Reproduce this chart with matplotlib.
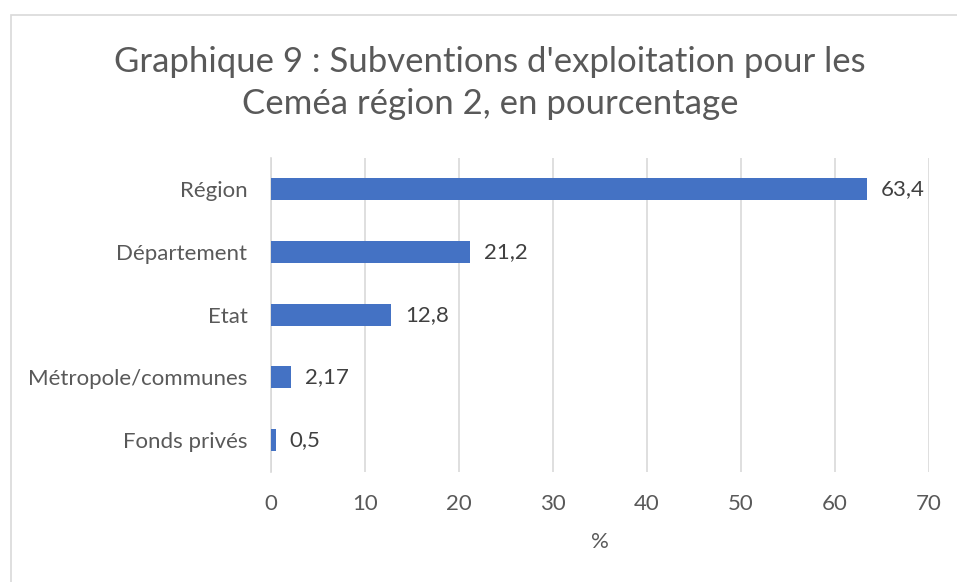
import matplotlib
matplotlib.use("Agg")
import matplotlib.pyplot as plt
from matplotlib.patches import Rectangle

categories = ["Région", "Département", "Etat", "Métropole/communes", "Fonds privés"]
values = [63.4, 21.2, 12.8, 2.17, 0.5]
value_labels = ["63,4", "21,2", "12,8", "2,17", "0,5"]
xticks = [0, 10, 20, 30, 40, 50, 60, 70]
title = "Graphique 9 : Subventions d'exploitation pour les\nCeméa région 2, en pourcentage"
xlabel = "%"

plt.rcParams['font.family'] = ['Lato', 'DejaVu Sans']

W, H = 957, 582
fig = plt.figure(figsize=(W / 100, H / 100), dpi=100)
fig.patch.set_facecolor("white")

# chart-area border
fig.patches.append(Rectangle((10.5 / W, -0.5), 2, 0.5 + 1 - 14.5 / H,
                             transform=fig.transFigure, fill=False,
                             edgecolor="#D9D9D9", linewidth=1.2))

ax = fig.add_axes([271 / W, 1 - 471.5 / H, (929 - 271) / W, (471.5 - 158) / H])
ypos = list(range(len(categories)))
ax.barh(ypos, values, height=0.35, color="#4472C4", zorder=3)
ax.set_ylim(len(categories) - 0.5, -0.5)
ax.set_xlim(0, 70)
ax.set_yticks(ypos)
ax.set_yticklabels(categories, fontsize=16, color="#595959")
ax.set_xticks(xticks)
ax.set_xticklabels([str(t) for t in xticks], fontsize=16, color="#595959")
ax.tick_params(axis="both", length=0)
ax.tick_params(axis="y", pad=17)
ax.tick_params(axis="x", pad=16)
ax.grid(axis="x", color="#D9D9D9", linewidth=1.2, zorder=0)
for s in ["top", "right", "bottom"]:
    ax.spines[s].set_visible(False)
ax.spines["left"].set_color("#D9D9D9")
ax.spines["left"].set_linewidth(1.2)

for y, v, lab in zip(ypos, values, value_labels):
    ax.annotate(lab, xy=(v, y), xytext=(10, 0), textcoords="offset points",
                va="center", ha="left", fontsize=16, color="#404040")

ax.set_xlabel(xlabel, fontsize=16, color="#595959", labelpad=13)

fig.text(490 / W, 1 - 83 / H, title, ha="center", va="center",
         fontsize=25, color="#595959", linespacing=1.35)

fig.savefig("out.png", dpi=100)
